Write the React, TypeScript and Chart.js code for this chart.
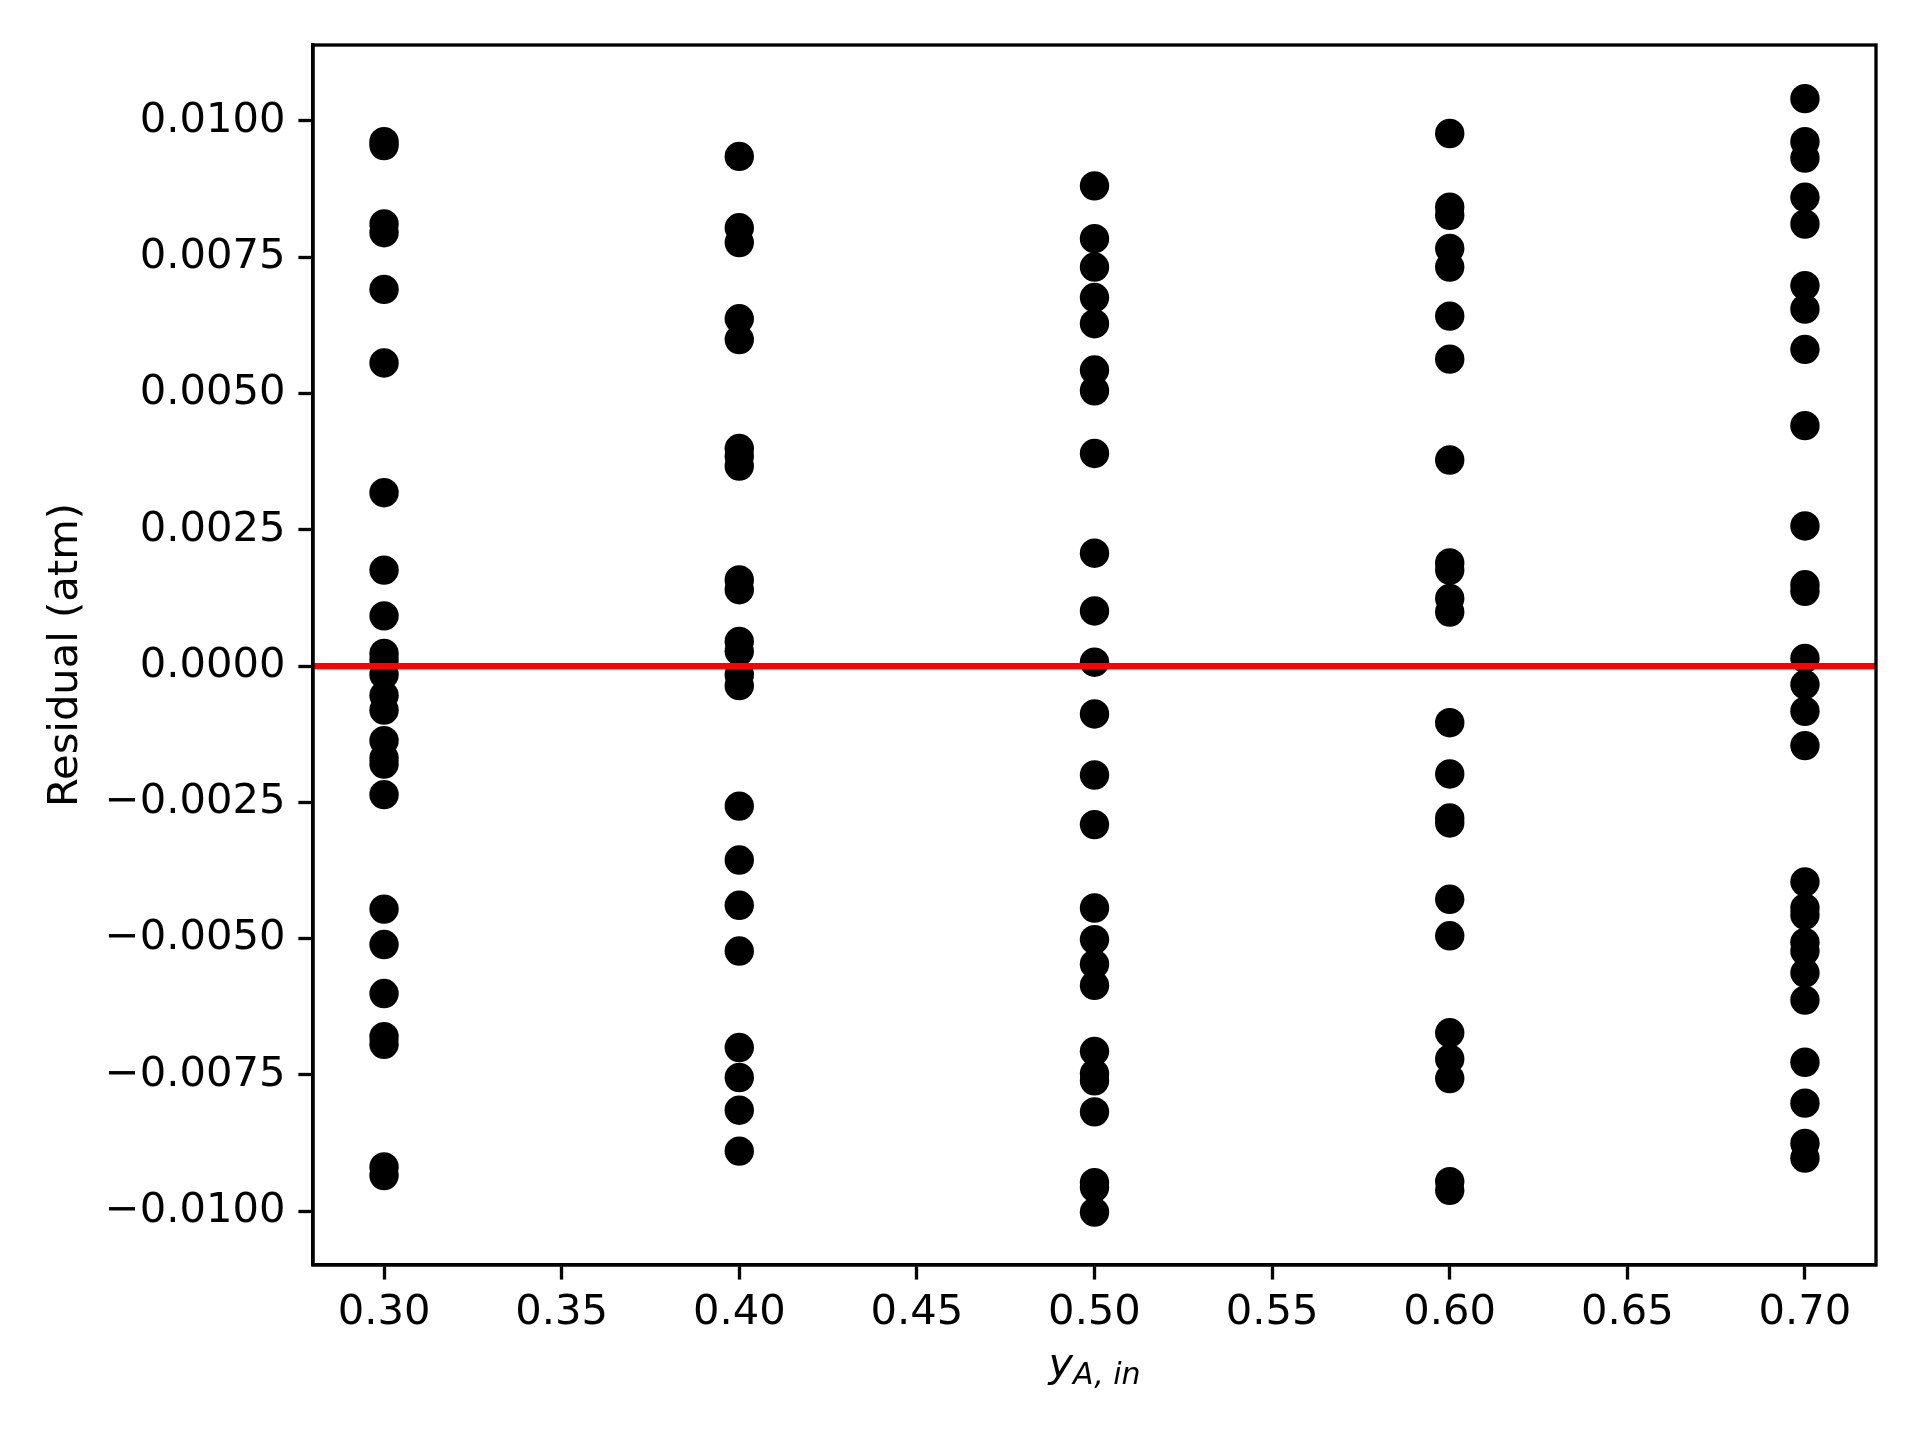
import React, { useEffect, useRef } from "react";
import { Chart, registerables } from "chart.js";

Chart.register(...registerables);

const xCategories = [0.3, 0.4, 0.5, 0.6, 0.7];

const residuals030 = [
  0.00962, 0.00955, 0.00811, 0.00795, 0.00691, 0.00556, 0.00318, 0.00176, 0.00092, 0.00023,
  0.00011, -0.00016, -0.00054, -0.00081, -0.00137, -0.00169, -0.0018, -0.00236, -0.00446,
  -0.00511, -0.00601, -0.0068, -0.00694, -0.00919, -0.00935,
];
const residuals040 = [
  0.00935, 0.00804, 0.00777, 0.00637, 0.00599, 0.00399, 0.00385, 0.00367, 0.00158, 0.0014,
  0.00045, 0.00027, -0.00016, -0.00036, -0.00257, -0.00356, -0.00439, -0.00523, -0.007,
  -0.00755, -0.00815, -0.0089,
];
const residuals050 = [
  0.00881, 0.00784, 0.00732, 0.00676, 0.00628, 0.00543, 0.00505, 0.0039, 0.00207, 0.00101,
  0.00007, -0.00088, -0.002, -0.00291, -0.00444, -0.00502, -0.00547, -0.00586, -0.00707,
  -0.00748, -0.00761, -0.00818, -0.00948, -0.00957, -0.01002,
];
const residuals060 = [
  0.00977, 0.00842, 0.00827, 0.00766, 0.00732, 0.00642, 0.00563, 0.00378, 0.00189, 0.00176,
  0.00124, 0.00099, -0.00104, -0.00198, -0.00279, -0.00288, -0.00428, -0.00495, -0.00673,
  -0.00721, -0.00757, -0.00946, -0.00962,
];
const residuals070 = [
  0.01041, 0.00962, 0.00932, 0.0086, 0.00811, 0.00698, 0.00655, 0.00581, 0.00441, 0.00257,
  0.00149, 0.00137, 0.00014, -0.00034, -0.00083, -0.00146, -0.00396, -0.00444, -0.00457,
  -0.00507, -0.00523, -0.00563, -0.00613, -0.00727, -0.00802, -0.00876, -0.00903,
];

const xTicks = [0.3, 0.35, 0.4, 0.45, 0.5, 0.55, 0.6, 0.65, 0.7];
const yTicks = [-0.01, -0.0075, -0.005, -0.0025, 0, 0.0025, 0.005, 0.0075, 0.01];

const xMin = 0.28;
const xMax = 0.72;
const yMin = -0.01099;
const yMax = 0.011394;
const referenceLevel = 0;

const allResiduals = [residuals030, residuals040, residuals050, residuals060, residuals070];

const PT = 300 / 72;
const FONT = 10 * PT;

const frameAndLabelPlugin = {
  id: "frameAndLabel",
  afterDraw(chart: any) {
    const { ctx, chartArea } = chart;
    ctx.save();
    ctx.strokeStyle = "#000";
    ctx.lineWidth = 0.8 * PT;
    ctx.strokeRect(chartArea.left, chartArea.top, chartArea.right - chartArea.left, chartArea.bottom - chartArea.top);

    // x-axis label: y_{A,in}
    const mainFont = `italic ${FONT}px "DejaVu Sans"`;
    const subFont = `italic ${FONT * 0.72}px "DejaVu Sans"`;
    ctx.fillStyle = "#000";
    ctx.textBaseline = "alphabetic";
    ctx.textAlign = "left";
    ctx.font = mainFont;
    const wMain = ctx.measureText("y").width;
    ctx.font = subFont;
    const subText = "A, in";
    const wSub = ctx.measureText(subText).width;
    const total = wMain + wSub;
    const cx = (chartArea.left + chartArea.right) / 2;
    const baseY = chartArea.bottom + 112;
    const startX = cx - total / 2;
    ctx.font = mainFont;
    ctx.fillText("y", startX, baseY);
    ctx.font = subFont;
    ctx.fillText(subText, startX + wMain, baseY + 7);
    ctx.restore();
  },
};

const fmt = (v: number, d: number) => v.toFixed(d).replace("-", "\u2212");

export default function App() {
  const canvasRef = useRef<HTMLCanvasElement | null>(null);

  useEffect(() => {
    if (!canvasRef.current) return;
    Chart.defaults.font.family = '"DejaVu Sans"';
    Chart.defaults.color = "#000";

    const scatterData: { x: number; y: number }[] = [];
    xCategories.forEach((xv, i) => {
      allResiduals[i].forEach((r) => scatterData.push({ x: xv, y: r }));
    });

    const chart = new Chart(canvasRef.current, {
      type: "scatter",
      data: {
        datasets: [
          {
            type: "line",
            data: [
              { x: xMin, y: referenceLevel },
              { x: xMax, y: referenceLevel },
            ],
            borderColor: "#ff0000",
            borderWidth: 1.5 * PT,
            pointRadius: 0,
            fill: false,
          } as any,
          {
            data: scatterData,
            backgroundColor: "#000",
            borderWidth: 0,
            pointRadius: 14.7,
            pointHoverRadius: 14.7,
          },
        ],
      },
      options: {
        animation: false,
        responsive: false,
        devicePixelRatio: 1,
        layout: { padding: { left: 0, top: 45, right: 44, bottom: 0 } },
        plugins: { legend: { display: false }, tooltip: { enabled: false } },
        scales: {
          x: {
            type: "linear",
            min: xMin,
            max: xMax,
            afterBuildTicks: (scale: any) => {
              scale.ticks = xTicks.map((v) => ({ value: v }));
            },
            afterFit: (scale: any) => {
              scale.height = 175;
            },
            ticks: {
              callback: (v: any) => fmt(Number(v), 2),
              font: { size: FONT },
              color: "#000",
              padding: 9,
              maxRotation: 0,
              autoSkip: false,
            },
            grid: {
              drawOnChartArea: false,
              drawTicks: true,
              tickLength: 3.5 * PT,
              tickWidth: 0.8 * PT,
              tickColor: "#000",
            },
            border: { display: true, color: "#000", width: 0.8 * PT },
          },
          y: {
            type: "linear",
            min: yMin,
            max: yMax,
            afterBuildTicks: (scale: any) => {
              scale.ticks = yTicks.map((v) => ({ value: v }));
            },
            afterFit: (scale: any) => {
              scale.width = 313;
            },
            ticks: {
              callback: (v: any) => fmt(Number(v), 4),
              font: { size: FONT },
              color: "#000",
              padding: 13,
              autoSkip: false,
            },
            grid: {
              drawOnChartArea: false,
              drawTicks: true,
              tickLength: 3.5 * PT,
              tickWidth: 0.8 * PT,
              tickColor: "#000",
            },
            border: { display: true, color: "#000", width: 0.8 * PT },
            title: {
              display: true,
              text: "Residual (atm)",
              font: { size: FONT },
              color: "#000",
              padding: { top: 41, bottom: 0 },
            },
          },
        },
      },
      plugins: [frameAndLabelPlugin],
    });

    return () => chart.destroy();
  }, []);

  return (
    <div style={{ position: "absolute", left: 0, top: 0, width: 1920, height: 1440, background: "#fff" }}>
      <canvas ref={canvasRef} width={1920} height={1440} style={{ width: 1920, height: 1440, display: "block" }} />
    </div>
  );
}
